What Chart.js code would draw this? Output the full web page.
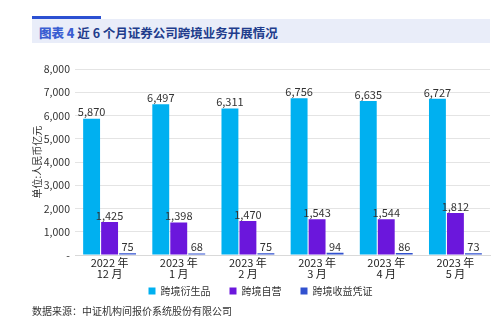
<!DOCTYPE html>
<html>
<head>
<meta charset="utf-8">
<script src="https://cdn.jsdelivr.net/npm/chart.js@4.4.1/dist/chart.umd.min.js"></script>
<style>
  body { margin: 0; width: 499px; height: 326px; background: #fff; font-family: "Noto Sans CJK SC", sans-serif; overflow: hidden; position: relative; }
  .accent { position: absolute; left: 32px; top: 16px; width: 69px; height: 4px; background: #2b50d2; }
  .title { position: absolute; left: 32px; top: 19px; width: 458px; height: 24px; background: #e9edf9; }
  .title span { position: absolute; left: 7px; top: 4px; font-size: 12.5px; font-weight: bold; color: #213c8c; white-space: nowrap; }
  .title b { color: #3a5ed2; }
  .source { position: absolute; left: 32px; top: 303px; font-size: 10px; color: #333; }
  #wrap { position: absolute; left: 0; top: 58px; width: 499px; height: 248px; }
</style>
</head>
<body>
<div class="accent"></div>
<div class="title"><span><b>图表 4</b> 近 6 个月证券公司跨境业务开展情况</span></div>
<div id="wrap"><canvas id="chart"></canvas></div>
<div class="source">数据来源：中证机构间报价系统股份有限公司</div>
<script>
const months = [["2022 年", "12 月"], ["2023 年", "1 月"], ["2023 年", "2 月"], ["2023 年", "3 月"], ["2023 年", "4 月"], ["2023 年", "5 月"]];
const derivatives = [5870, 6497, 6311, 6756, 6635, 6727];
const proprietary = [1425, 1398, 1470, 1543, 1544, 1812];
const notes = [75, 68, 75, 94, 86, 73];
const seriesNames = ["跨境衍生品", "跨境自营", "跨境收益凭证"];
const colors = ["#00b0f0", "#6b17dc", "#3151cf"];

const fmt = v => v === 0 ? "-" : v.toLocaleString("en-US");

// value labels above each bar
const barLabels = {
  id: "barLabels",
  afterDatasetsDraw(c) {
    const ctx = c.ctx;
    ctx.save();
    ctx.font = "11px 'Noto Sans CJK SC'";
    ctx.fillStyle = "#333";
    ctx.textAlign = "center";
    ctx.textBaseline = "bottom";
    c.data.datasets.forEach((ds, i) => {
      c.getDatasetMeta(i).data.forEach((bar, j) => {
        ctx.fillText(fmt(ds.data[j]), bar.x, bar.y - 1);
      });
    });
    ctx.restore();
  }
};

chart = new Chart(document.getElementById("chart"), {
  type: "bar",
  data: {
    labels: months,
    datasets: [derivatives, proprietary, notes].map((d, i) => ({
      label: seriesNames[i],
      data: d,
      backgroundColor: colors[i],
      categoryPercentage: 0.78,
      barPercentage: 0.94
    }))
  },
  options: {
    responsive: true,
    maintainAspectRatio: false,
    animation: false,
    layout: { padding: { top: 6, right: 9, left: 31, bottom: 0 } },
    scales: {
      y: {
        min: 0, max: 8000,
        ticks: { stepSize: 1000, callback: fmt, color: "#333", font: { size: 10.5, family: "Noto Sans CJK SC" }, padding: 5 },
        grid: { color: "#e4e4e4", drawTicks: false },
        border: { display: false },
        title: { display: true, text: "单位:人民币亿元", color: "#333", font: { size: 10, family: "Noto Sans CJK SC" }, padding: 0 },
        afterFit: s => { s.width = 44; }
      },
      x: {
        ticks: { color: "#222", font: { size: 11, family: "Noto Sans CJK SC", lineHeight: 0.95 }, padding: 3, maxRotation: 0 },
        grid: { display: false, tickLength: 0 },
        border: { color: "#d9d9d9" },
        afterFit: s => {
          s.height = 12;
          // let the two-line labels run into the legend's top padding
          s._computeLabelArea = () => undefined;
        }
      }
    },
    plugins: {
      legend: {
        position: "bottom",
        labels: { boxWidth: 7, boxHeight: 7, padding: 19, color: "#333", font: { size: 10, family: "Noto Sans CJK SC" } }
      },
      tooltip: { enabled: false }
    }
  },
  plugins: [barLabels]
});
</script>
</body>
</html>
